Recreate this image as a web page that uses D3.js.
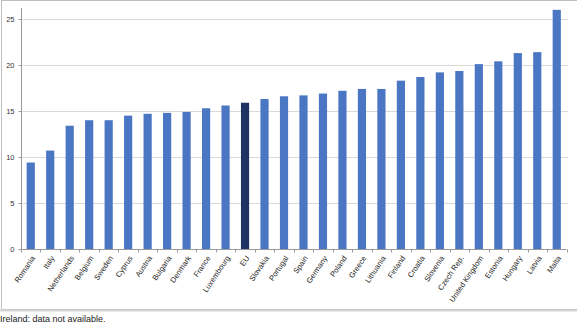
<!DOCTYPE html>
<html><head><meta charset="utf-8">
<script src="https://cdn.jsdelivr.net/npm/d3@7"></script>
<style>
html,body{margin:0;padding:0;background:#fff;}
svg{display:block;}
</style></head>
<body>
<script>
const categories = ["Romania","Italy","Netherlands","Belgium","Sweden","Cyprus","Austria","Bulgaria","Denmark","France","Luxembourg","EU","Slovakia","Portugal","Spain","Germany","Poland","Greece","Lithuania","Finland","Croatia","Slovenia","Czech Rep.","United Kingdom","Estonia","Hungary","Latvia","Malta"];
const values = [9.4,10.7,13.4,14.0,14.0,14.5,14.7,14.8,14.9,15.3,15.6,15.9,16.3,16.6,16.7,16.9,17.2,17.4,17.4,18.3,18.7,19.2,19.35,20.1,20.4,21.3,21.4,26.0];
const yTicks = [0,5,10,15,20,25];
const highlight = "EU";
const note = "Ireland: data not available.";

(function(){
const W = 577, H = 326;
const svg = d3.select("body").append("svg").attr("width", W).attr("height", H);

// chart frame
svg.append("rect").attr("x",1.5).attr("y",0.5).attr("width",W+10).attr("height",309)
  .attr("fill","none").attr("stroke","#bfbfbf").attr("stroke-width",1);
svg.append("line").attr("x1",0).attr("x2",W).attr("y1",310.5).attr("y2",310.5)
  .attr("stroke","#d4d4d4").attr("stroke-width",2);

const pLeft = 21, pRight = 566.5, pTop = 8, pBottom = 249;
const x = d3.scaleBand().domain(categories).range([pLeft, pRight]).paddingInner(0.58).paddingOuter(0.29);
const y = d3.scaleLinear().domain([0, 26.2]).range([pBottom, pTop]);

// gridlines
svg.append("g").selectAll("line").data(yTicks.filter(d=>d>0)).join("line")
  .attr("x1", pLeft).attr("x2", 568)
  .attr("y1", d=>Math.round(y(d))+0.5).attr("y2", d=>Math.round(y(d))+0.5)
  .attr("stroke","#d9d9d9").attr("stroke-width",1);

// bars
svg.append("g").selectAll("rect").data(categories).join("rect")
  .attr("x", d=>x(d)).attr("width", x.bandwidth())
  .attr("y", (d,i)=>y(values[i])).attr("height", (d,i)=>pBottom - y(values[i]))
  .attr("fill", d=> d===highlight ? "#1f3462" : "#4a76c4");

// y axis
const yAxis = d3.axisLeft(y).tickValues(yTicks).tickSize(3).tickPadding(4);
const gy = svg.append("g").attr("transform",`translate(${pLeft+0.5},0)`).call(yAxis);
gy.select(".domain").attr("stroke","#9a9a9a").attr("d",`M0,${pTop}V${pBottom}`);
gy.selectAll(".tick line").attr("stroke","#9a9a9a");
gy.selectAll(".tick text").attr("fill","#333").style("font-family","'Liberation Sans',Arial,sans-serif").style("font-size","7.5px");

// x axis
const gx = svg.append("g").attr("transform",`translate(0,${pBottom+0.5})`);
gx.append("line").attr("x1",pLeft).attr("x2",pRight).attr("stroke","#9a9a9a");
const step = x.step();
const boundaries = d3.range(categories.length+1).map(i=> pLeft + i*step);
gx.selectAll("line.tk").data(boundaries).join("line").attr("class","tk")
  .attr("x1",d=>Math.round(d)+0.5).attr("x2",d=>Math.round(d)+0.5).attr("y1",0).attr("y2",3)
  .attr("stroke","#9a9a9a");
gx.selectAll("text").data(categories).join("text")
  .attr("transform", d=>`translate(${x(d)+x.bandwidth()/2+2.5},7) rotate(-56)`)
  .attr("text-anchor","end").attr("dy","0.35em")
  .attr("fill","#222")
  .style("font-family","'Liberation Sans',Arial,sans-serif").style("font-size","7.6px")
  .text(d=>d);

// note
svg.append("text").attr("x",0).attr("y",322).attr("fill","#222")
  .style("font-family","'Liberation Sans',Arial,sans-serif").style("font-size","9px")
  .text(note);
})();
</script>
</body></html>
